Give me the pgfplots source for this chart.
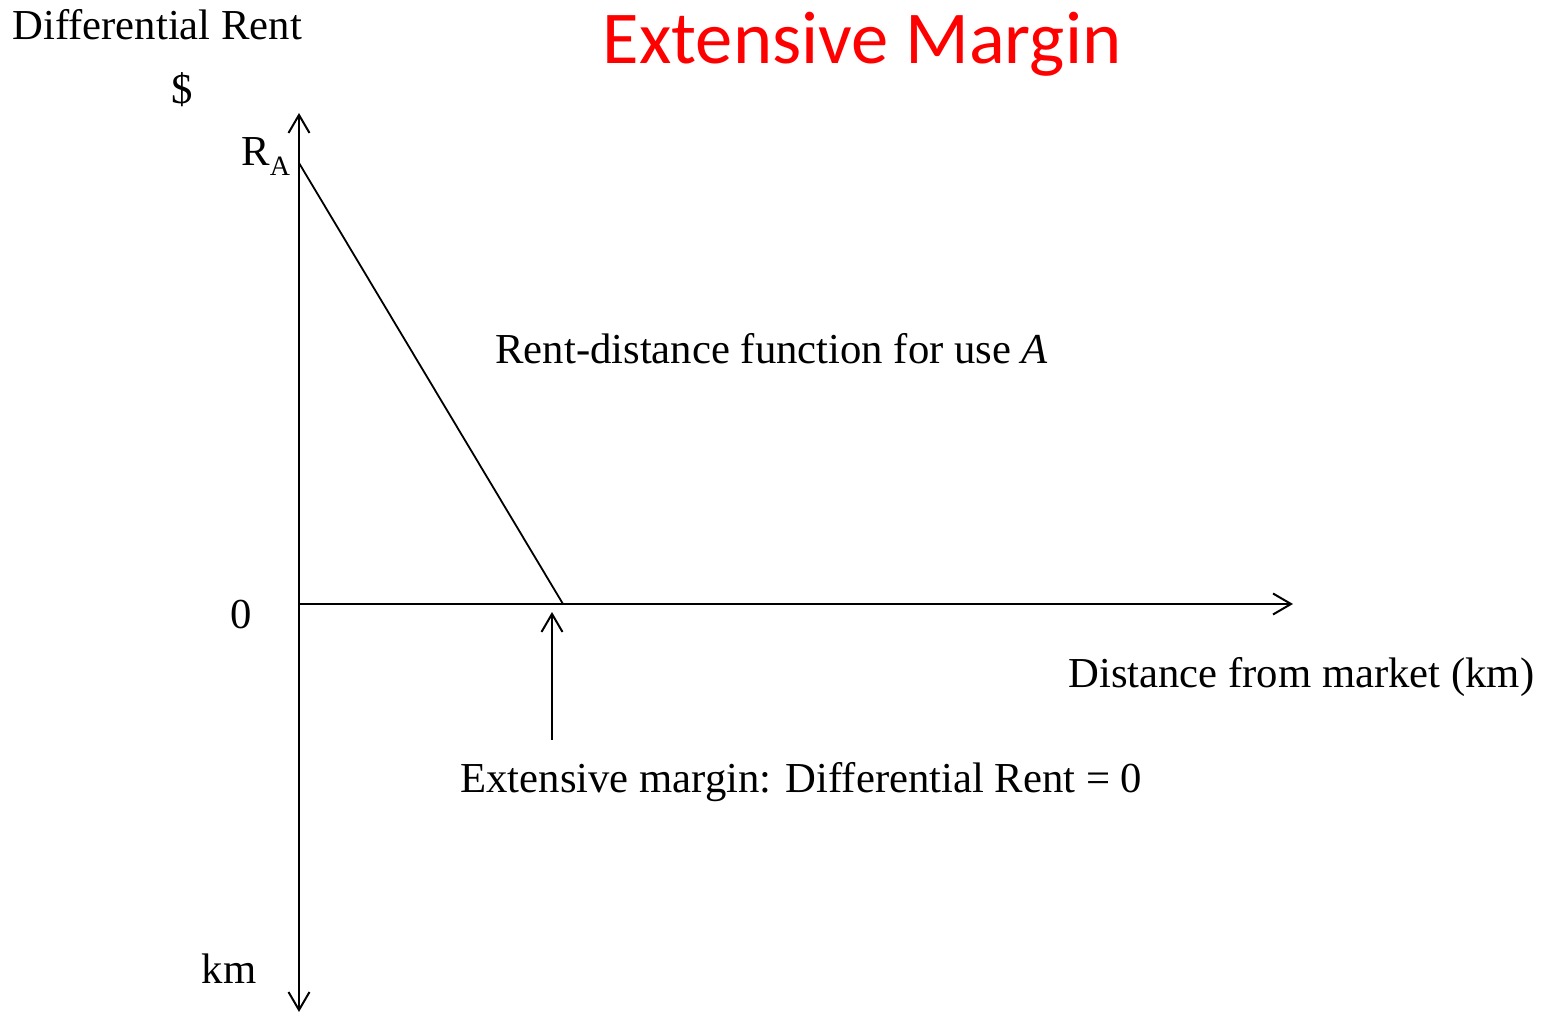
\documentclass[border=0pt]{standalone}
\usepackage{fontspec}
\setmainfont{Liberation Serif}
\newfontfamily\carlito{Carlito}
\usepackage{pgfplots}
\pgfplotsset{compat=1.18}
\usetikzlibrary{arrows.meta}
\definecolor{titlered}{RGB}{255,0,0}
\tikzset{>={Straight Barb[length=9pt,width=10.5pt,line width=1pt]},
  lab/.style={font=\fontsize{21.35}{25}\selectfont, inner sep=0pt}}
\begin{document}
\begin{tikzpicture}[x=1pt,y=1pt]
\begin{axis}[
  scale only axis,
  width=497pt, height=449.5pt,
  xmin=0, xmax=994, ymin=-408, ymax=491,
  axis lines=middle,
  axis line style={line width=1pt, black},
  x axis line style={->},
  y axis line style={<->},
  xtick=\empty, ytick=\empty,
  clip=false,
]
% fix page size to reference proportions
\path (axis cs:-299,604) rectangle (axis cs:1242,-411);
% rent-distance function
\addplot[black, line width=0.9pt] coordinates {(0,441) (264,0)};
% extensive margin arrow
\addplot[black, line width=1pt, ->] coordinates {(253,-136) (253,-8)};
% labels
\node[lab, anchor=base west] at (axis cs:-287,564) {Differential Rent};
\node[lab, anchor=base] at (axis cs:-117,500) {\$};
\node[lab, anchor=base west] at (axis cs:-58,438) {R\raisebox{-5pt}{\fontsize{14}{16}\selectfont A}};
\node[lab, anchor=base] at (axis cs:-58,-25) {0};
\node[lab, anchor=base] at (axis cs:-70,-380) {km};
\node[anchor=base, inner sep=0pt, text=titlered, font=\carlito\fontsize{37.3}{42}\selectfont] at (axis cs:563,540) {Extensive Margin};
\node[lab, anchor=base west] at (axis cs:196,240) {Rent-distance function for use \textit{A}};
\node[lab, anchor=base west] at (axis cs:769,-84) {Distance from market (km)};
\node[lab, anchor=base west] at (axis cs:161,-189) {Extensive margin: Differential Rent = 0};
\end{axis}
\end{tikzpicture}
\end{document}
